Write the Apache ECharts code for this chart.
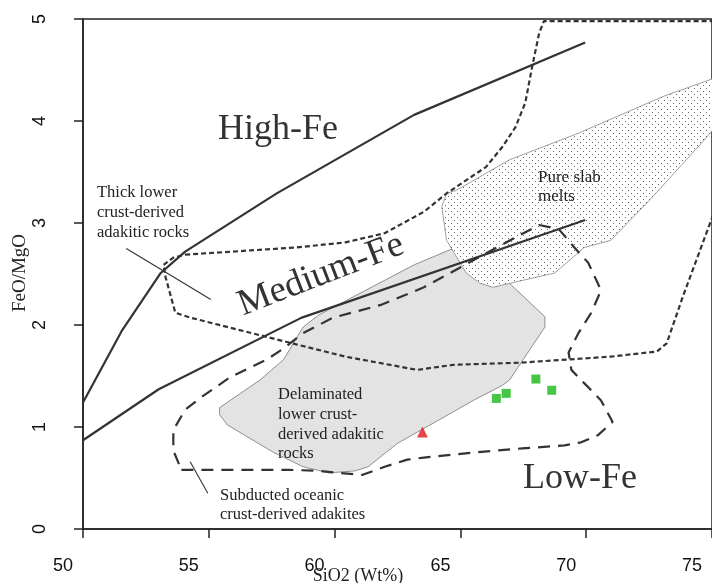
<!DOCTYPE html>
<html><head><meta charset="utf-8">
<script src="https://cdn.jsdelivr.net/npm/echarts@6/dist/echarts.min.js"></script>
<style>html,body{margin:0;padding:0;background:#fff}#c{width:712px;height:583px}</style>
</head><body><div id="c"></div>
<script>
// ---- tick labels ----
const xTicks = [50, 55, 60, 65, 70, 75];
const yTicks = [0, 1, 2, 3, 4, 5];

// ---- boundary lines (SiO2, FeO/MgO) ----
const highFeBoundary = [[50,1.24],[51.56,1.95],[53.09,2.51],[54.06,2.72],[57.70,3.29],[63.16,4.06],[69.96,4.77]];
const lowFeBoundary = [[50,0.87],[53.01,1.37],[58.67,2.07],[69.96,3.03]];

// ---- field outlines ----
const thickLowerCrust = [[54.06,2.69],[58.48,2.76],[60.43,2.81],[61.99,2.90],[63.55,3.11],[64.45,3.29],[66.02,3.55],[66.68,3.75],[67.19,3.94],[67.58,4.18],[67.85,4.53],[68.13,4.86],[68.32,4.98],[76,4.98],[75.5,3.38],[74.49,2.71],[73.83,2.27],[73.20,1.82],[72.81,1.74],[70.98,1.69],[67.34,1.63],[64.73,1.61],[63.28,1.56],[60.43,1.69],[58.48,1.81],[54.30,2.07],[53.67,2.12],[53.28,2.47],[53.20,2.59],[53.59,2.66],[54.06,2.69]];
const subductedOceanic = [[53.91,0.58],[58.20,0.58],[59.38,0.57],[60.16,0.55],[61.09,0.53],[61.99,0.61],[62.89,0.68],[63.55,0.70],[65.51,0.75],[67.46,0.79],[69.14,0.82],[69.80,0.85],[70.47,0.92],[71.05,1.05],[70.59,1.26],[69.92,1.43],[69.41,1.56],[69.30,1.73],[69.69,1.92],[70.20,2.12],[70.59,2.34],[70.08,2.61],[69.53,2.76],[68.91,2.94],[68.13,2.98],[67.34,2.88],[63.55,2.37],[61.88,2.20],[59.92,2.07],[58.75,1.92],[57.97,1.77],[57.30,1.66],[55.86,1.49],[54.69,1.29],[54.06,1.17],[53.59,0.97],[53.59,0.77],[53.91,0.58]];
const delaminated = [[55.43,1.19],[55.43,1.12],[55.74,1.02],[57.58,0.75],[58.75,0.61],[59.77,0.55],[60.82,0.57],[61.33,0.61],[62.50,0.84],[64.73,1.15],[65.51,1.26],[66.68,1.41],[66.95,1.46],[68.36,1.98],[68.36,2.08],[66.95,2.41],[65.12,2.74],[64.61,2.74],[63.16,2.59],[59.38,2.10],[58.75,1.98],[58.36,1.82],[57.97,1.66],[57.03,1.46]];
const pureSlabMelts = [[64.26,3.16],[64.45,3.29],[64.84,3.32],[66.95,3.62],[69.69,3.88],[73.05,4.24],[75.66,4.47],[75.66,4.09],[74.57,3.78],[72.54,3.23],[70.98,2.83],[69.92,2.76],[68.75,2.51],[66.29,2.37],[65.78,2.41],[65.23,2.51],[64.45,2.83]];

// ---- leader lines ----
const thickLeader = [[51.72,2.75],[55.08,2.25]];
const subductedLeader = [[54.26,0.66],[54.96,0.35]];

// ---- samples ----
const greenSamples = [[66.43,1.28],[66.82,1.33],[68.00,1.47],[68.63,1.36]];
const redSamples = [[63.49,0.95]];

// stipple pattern
const pat = document.createElement('canvas');
pat.width = 6; pat.height = 6;
const pc = pat.getContext('2d');
pc.fillStyle = '#ffffff'; pc.fillRect(0,0,6,6);
pc.fillStyle = '#666666'; pc.fillRect(1,1,1,1); pc.fillRect(4,4,1,1);

const serif = '"Liberation Serif", "DejaVu Serif", serif';
const sans = '"Liberation Sans", Arial, sans-serif';
const ink = '#333333';

function polySeries(pts, style, z) {
  return {
    type: 'custom', clip: true, silent: true, z: z, data: [0],
    renderItem: function (params, api) {
      return { type: 'polygon', shape: { points: pts.map(function (p) { return api.coord(p); }) }, style: style };
    }
  };
}
function lineSeries(pts, width, dash, z) {
  return {
    type: 'line', data: pts, symbol: 'none', clip: true, silent: true, z: z,
    lineStyle: { color: ink, width: width, type: dash }
  };
}

const chart = echarts.init(document.getElementById('c'), null, { renderer: 'canvas' });
chart.setOption({
  animation: false,
  backgroundColor: '#ffffff',
  grid: { left: 83, right: -11, top: 19, bottom: 54, show: true, borderColor: '#222', borderWidth: 1.5 },
  xAxis: {
    type: 'value', min: xTicks[0], max: xTicks[xTicks.length - 1], interval: 5,
    axisLine: { show: true, lineStyle: { color: '#222', width: 1.5 } },
    axisTick: { show: true, length: 9, lineStyle: { color: '#222', width: 1.5 } },
    splitLine: { show: false },
    axisLabel: { color: '#111', fontFamily: sans, fontSize: 18, margin: 28, padding: [0, 40, 0, 0] }
  },
  yAxis: {
    type: 'value', min: yTicks[0], max: yTicks[yTicks.length - 1], interval: 1,
    axisLine: { show: true, lineStyle: { color: '#222', width: 1.5 } },
    axisTick: { show: true, length: 9, lineStyle: { color: '#222', width: 1.5 } },
    splitLine: { show: false },
    axisLabel: { color: '#111', fontFamily: sans, fontSize: 18, rotate: 90, margin: 34 }
  },
  series: [
    polySeries(delaminated, { fill: '#e3e3e3', stroke: '#666', lineWidth: 0.7 }, 1),
    polySeries(pureSlabMelts, { fill: { image: pat, repeat: 'repeat' }, stroke: '#777', lineWidth: 0.7 }, 2),
    lineSeries(highFeBoundary, 2.2, 'solid', 5),
    lineSeries(lowFeBoundary, 2.2, 'solid', 5),
    lineSeries(thickLowerCrust, 2.2, [5, 3], 5),
    lineSeries(subductedOceanic, 2.2, [12, 8], 5),
    lineSeries(thickLeader, 1.1, 'solid', 5),
    lineSeries(subductedLeader, 1.1, 'solid', 5),
    { type: 'scatter', data: greenSamples, symbol: 'rect', symbolSize: 9, itemStyle: { color: '#18b818' }, z: 6 },
    { type: 'scatter', data: redSamples, symbol: 'triangle', symbolSize: 11, itemStyle: { color: '#e3141c' }, z: 6 }
  ],
  graphic: [
    { type: 'text', x: 278, y: 130, z: 10, style: { text: 'High-Fe', font: '36px ' + serif, fill: ink, align: 'center', verticalAlign: 'middle' } },
    { type: 'text', x: 321, y: 275, rotation: 0.367, z: 10, style: { text: 'Medium-Fe', font: '37px ' + serif, fill: ink, align: 'center', verticalAlign: 'middle' } },
    { type: 'text', x: 580, y: 479, z: 10, style: { text: 'Low-Fe', font: '36px ' + serif, fill: ink, align: 'center', verticalAlign: 'middle' } },
    { type: 'text', x: 538, y: 168, z: 10, style: { text: 'Pure slab\nmelts', font: '17px ' + serif, lineHeight: 19, fill: '#222', align: 'left', verticalAlign: 'top' } },
    { type: 'text', x: 97, y: 183, z: 10, style: { text: 'Thick lower\ncrust-derived\nadakitic rocks', font: '16.5px ' + serif, lineHeight: 20, fill: '#222', align: 'left', verticalAlign: 'top' } },
    { type: 'text', x: 278, y: 385, z: 10, style: { text: 'Delaminated\nlower crust-\nderived adakitic\nrocks', font: '16.5px ' + serif, lineHeight: 19.7, fill: '#222', align: 'left', verticalAlign: 'top' } },
    { type: 'text', x: 220, y: 486, z: 10, style: { text: 'Subducted oceanic\ncrust-derived adakites', font: '16.5px ' + serif, lineHeight: 19, fill: '#222', align: 'left', verticalAlign: 'top' } },
    { type: 'text', x: 358, y: 576, z: 10, style: { text: 'SiO2 (Wt%)', font: '18px ' + serif, fill: '#222', align: 'center', verticalAlign: 'middle' } },
    { type: 'text', x: 20, y: 273, rotation: Math.PI / 2, z: 10, style: { text: 'FeO/MgO', font: '19px ' + serif, fill: '#222', align: 'center', verticalAlign: 'middle' } }
  ]
});
</script>
</body></html>
